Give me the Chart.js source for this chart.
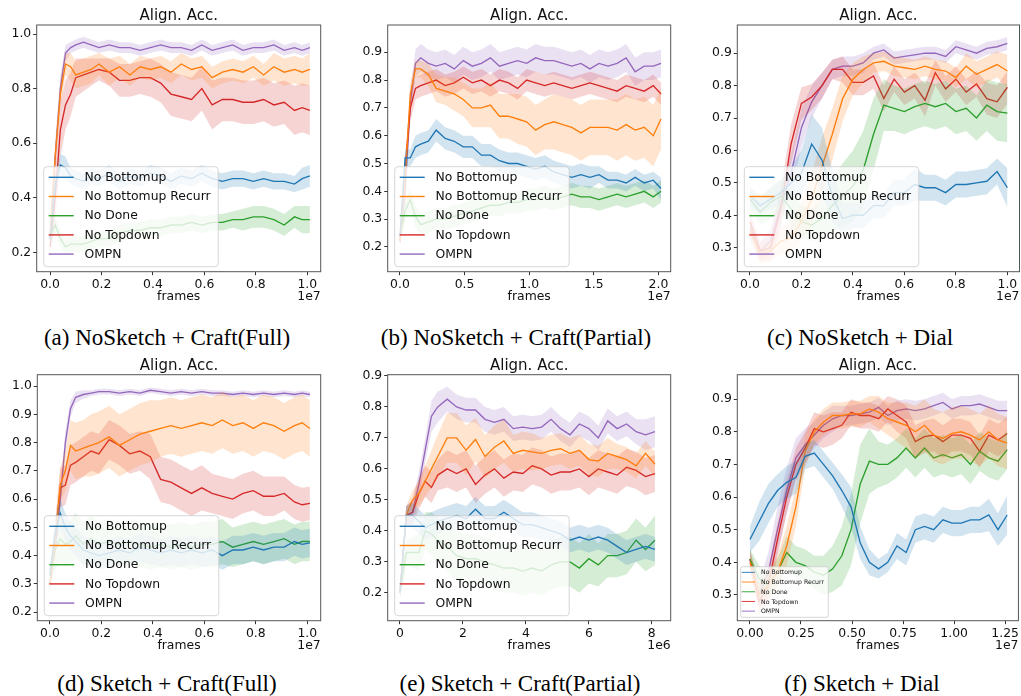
<!DOCTYPE html>
<html lang="en">
<head>
<meta charset="UTF-8">
<title>Align. Acc. ablations</title>
<script src="https://cdn.jsdelivr.net/npm/chart.js@4"></script>
<style>
body {
    margin: 0;
    background: #fff;
    width: 1021px;
    height: 696px;
    position: relative;
    overflow: hidden;
}
canvas {
    position: absolute;
}
.cap {
    position: absolute;
    font-family: "Liberation Serif", serif;
    font-size: 23px;
    line-height: 1;
    color: #000;
    white-space: nowrap;
    transform: translateX(-50%);
}
</style>
</head>
<body>

<canvas id="pa" width="340" height="310" style="left:0;top:0"></canvas>
<canvas id="pb" width="340" height="310" style="left:340px;top:0"></canvas>
<canvas id="pc" width="341" height="310" style="left:680px;top:0"></canvas>
<canvas id="pd" width="340" height="320" style="left:0;top:350px"></canvas>
<canvas id="pe" width="340" height="320" style="left:340px;top:350px"></canvas>
<canvas id="pf" width="341" height="320" style="left:680px;top:350px"></canvas>

<div class="cap" style="left:167px;top:326px">(a) NoSketch + Craft(Full)</div>
<div class="cap" style="left:516px;top:326px">(b) NoSketch + Craft(Partial)</div>
<div class="cap" style="left:860px;top:326px">(c) NoSketch + Dial</div>
<div class="cap" style="left:167px;top:672px">(d) Sketch + Craft(Full)</div>
<div class="cap" style="left:520px;top:672px">(e) Sketch + Craft(Partial)</div>
<div class="cap" style="left:862px;top:672px">(f) Sketch + Dial</div>

<script>
// legend order
const seriesNames = ['No Bottomup', 'No Bottomup Recurr', 'No Done', 'No Topdown', 'OMPN'];
const seriesColors = ['#1f77b4', '#ff7f0e', '#2ca02c', '#d62728', '#9467bd'];

// (a) NoSketch + Craft(Full), frames in 1e7
const xA = [0, 0.02, 0.04, 0.06, 0.08, 0.10, 0.13, 0.16, 0.19, 0.23, 0.27, 0.31, 0.35, 0.39, 0.43, 0.47, 0.51, 0.55, 0.59, 0.63, 0.67, 0.71, 0.75, 0.79, 0.83, 0.87, 0.91, 0.95, 0.98, 1.01];
const aBottomup = [0.25,0.45,0.52,0.51,0.48, 0.47,0.46,0.48,0.47,0.49, 0.46,0.48,0.47,0.49,0.48, 0.46,0.48,0.47,0.49,0.47, 0.46,0.47,0.47,0.46,0.47, 0.46,0.46,0.45,0.47,0.48];
const aBottomupBand = [0.03,0.04,0.04,0.04,0.03, 0.03,0.03,0.03,0.03,0.03, 0.03,0.03,0.03,0.03,0.03, 0.03,0.03,0.03,0.03,0.03, 0.03,0.03,0.03,0.03,0.03, 0.03,0.03,0.03,0.04,0.04];
const aRecurr = [0.27,0.55,0.78,0.89,0.88, 0.85,0.86,0.87,0.89,0.86, 0.88,0.85,0.88,0.87,0.88, 0.86,0.89,0.87,0.88,0.84, 0.86,0.87,0.86,0.88,0.85, 0.88,0.86,0.87,0.86,0.87];
const aRecurrBand = [0.03,0.06,0.05,0.04,0.05, 0.05,0.05,0.05,0.04,0.05, 0.04,0.04,0.04,0.04,0.04, 0.04,0.04,0.04,0.04,0.04, 0.04,0.04,0.04,0.04,0.04, 0.05,0.05,0.05,0.05,0.06];
const aDone = [0.26,0.30,0.25,0.22,0.23, 0.23,0.23,0.24,0.25,0.25, 0.27,0.28,0.28,0.29,0.29, 0.30,0.30,0.31,0.30,0.31, 0.31,0.32,0.32,0.33,0.33, 0.32,0.30,0.33,0.32,0.32];
const aDoneBand = [0.02,0.03,0.03,0.03,0.03, 0.03,0.03,0.03,0.03,0.03, 0.03,0.03,0.03,0.03,0.03, 0.03,0.03,0.03,0.03,0.03, 0.03,0.03,0.04,0.04,0.04, 0.04,0.04,0.04,0.05,0.05];
const aTopdown = [0.22,0.40,0.65,0.74,0.78, 0.84,0.85,0.86,0.87,0.86, 0.83,0.83,0.84,0.84,0.82, 0.78,0.77,0.76,0.80,0.74, 0.76,0.76,0.75,0.75,0.76, 0.74,0.75,0.72,0.73,0.72];
const aTopdownBand = [0.03,0.10,0.10,0.09,0.08, 0.07,0.06,0.05,0.04,0.05, 0.06,0.06,0.06,0.07,0.07, 0.08,0.08,0.08,0.08,0.09, 0.08,0.08,0.08,0.08,0.08, 0.08,0.08,0.09,0.09,0.09];
const aOMPN = [0.25,0.55,0.80,0.93,0.95, 0.96,0.97,0.96,0.95,0.96, 0.95,0.95,0.94,0.95,0.96, 0.95,0.95,0.94,0.96,0.94, 0.95,0.96,0.94,0.95,0.95, 0.96,0.94,0.95,0.94,0.95];
const aOMPNBand = [0.02,0.05,0.05,0.03,0.02, 0.02,0.02,0.02,0.02,0.02, 0.02,0.02,0.02,0.02,0.02, 0.02,0.02,0.02,0.02,0.02, 0.02,0.02,0.02,0.02,0.02, 0.02,0.02,0.02,0.02,0.02];

// (b) NoSketch + Craft(Partial), frames in 1e7
const xB = [0, 0.04, 0.08, 0.12, 0.16, 0.22, 0.28, 0.35, 0.42, 0.49, 0.56, 0.63, 0.70, 0.77, 0.84, 0.91, 0.98, 1.05, 1.12, 1.19, 1.26, 1.33, 1.40, 1.47, 1.54, 1.61, 1.68, 1.75, 1.82, 1.89, 1.96, 2.02];
const bBottomup = [0.24,0.52,0.52,0.56,0.57, 0.58,0.62,0.59,0.58,0.56, 0.56,0.53,0.53,0.51,0.50, 0.50,0.49,0.48,0.49,0.47, 0.46,0.45,0.46,0.45,0.46, 0.44,0.44,0.43,0.45,0.43, 0.44,0.41];
const bBottomupBand = [0.02,0.03,0.03,0.04,0.04, 0.04,0.04,0.04,0.04,0.04, 0.04,0.04,0.04,0.04,0.04, 0.04,0.04,0.04,0.04,0.04, 0.04,0.04,0.04,0.04,0.03, 0.03,0.03,0.03,0.03,0.03, 0.03,0.04];
const bRecurr = [0.22,0.45,0.75,0.84,0.84, 0.82,0.77,0.76,0.75,0.73, 0.70,0.70,0.71,0.67,0.67, 0.66,0.65,0.62,0.64,0.65, 0.64,0.63,0.61,0.63,0.63, 0.63,0.62,0.64,0.62,0.63, 0.60,0.66];
const bRecurrBand = [0.02,0.04,0.04,0.03,0.03, 0.04,0.05,0.05,0.06,0.06, 0.07,0.07,0.08,0.08,0.08, 0.09,0.09,0.09,0.09,0.10, 0.10,0.10,0.10,0.10,0.10, 0.10,0.11,0.11,0.11,0.11, 0.11,0.11];
const bDone = [0.24,0.33,0.37,0.31,0.28, 0.29,0.30,0.30,0.31,0.32, 0.33,0.34,0.35,0.35,0.36, 0.36,0.37,0.37,0.38,0.37, 0.38,0.39,0.38,0.38,0.37, 0.38,0.39,0.38,0.39,0.40, 0.38,0.40];
const bDoneBand = [0.02,0.04,0.04,0.04,0.04, 0.04,0.04,0.04,0.04,0.04, 0.04,0.04,0.04,0.04,0.04, 0.04,0.04,0.04,0.04,0.04, 0.04,0.04,0.04,0.04,0.04, 0.04,0.04,0.04,0.04,0.04, 0.04,0.04];
const bTopdown = [0.22,0.48,0.70,0.77,0.78, 0.79,0.80,0.78,0.79,0.81, 0.79,0.80,0.78,0.80,0.79, 0.77,0.80,0.79,0.78,0.79, 0.78,0.77,0.78,0.79,0.78, 0.77,0.76,0.78,0.77,0.76, 0.78,0.75];
const bTopdownBand = [0.02,0.05,0.05,0.04,0.04, 0.04,0.04,0.04,0.04,0.04, 0.04,0.04,0.04,0.04,0.04, 0.04,0.04,0.04,0.04,0.04, 0.04,0.04,0.04,0.04,0.04, 0.04,0.04,0.04,0.04,0.04, 0.04,0.04];
const bOMPN = [0.22,0.40,0.72,0.86,0.88, 0.86,0.85,0.86,0.84,0.87, 0.85,0.86,0.88,0.85,0.86, 0.87,0.86,0.88,0.87,0.87, 0.86,0.85,0.86,0.84,0.86, 0.85,0.86,0.88,0.83,0.85, 0.85,0.86];
const bOMPNBand = [0.02,0.05,0.05,0.05,0.05, 0.05,0.05,0.05,0.05,0.05, 0.05,0.05,0.05,0.05,0.05, 0.05,0.05,0.05,0.05,0.05, 0.05,0.05,0.05,0.05,0.05, 0.05,0.05,0.05,0.05,0.05, 0.05,0.05];

// (c) NoSketch + Dial, frames in 1e7
const xC = [0, 0.04, 0.08, 0.12, 0.16, 0.20, 0.24, 0.28, 0.32, 0.36, 0.40, 0.44, 0.48, 0.52, 0.56, 0.60, 0.64, 0.68, 0.72, 0.76, 0.80, 0.84, 0.88, 0.92, 0.96, 1.00];
const cBottomup = [0.46,0.43,0.45,0.47,0.50, 0.53,0.62,0.57,0.46,0.39, 0.40,0.40,0.43,0.43,0.47, 0.47,0.495,0.485,0.485,0.47, 0.495,0.495,0.50,0.505,0.535, 0.485];
const cBottomupBand = [0.03,0.03,0.03,0.04,0.05, 0.07,0.09,0.10,0.08,0.05, 0.04,0.04,0.04,0.04,0.04, 0.04,0.05,0.04,0.04,0.04, 0.04,0.04,0.04,0.04,0.04, 0.06];
const cRecurr = [0.35,0.28,0.29,0.32,0.33, 0.38,0.45,0.55,0.65,0.76, 0.82,0.85,0.87,0.875,0.86, 0.855,0.85,0.86,0.85,0.845, 0.825,0.86,0.835,0.85,0.865, 0.845];
const cRecurrBand = [0.03,0.03,0.03,0.04,0.05, 0.06,0.08,0.09,0.08,0.07, 0.05,0.04,0.03,0.03,0.03, 0.03,0.03,0.03,0.03,0.03, 0.03,0.04,0.04,0.04,0.04, 0.05];
const cDone = [0.45,0.41,0.44,0.46,0.42, 0.38,0.37,0.39,0.43,0.46, 0.49,0.54,0.65,0.74,0.73, 0.72,0.735,0.745,0.735,0.745, 0.72,0.73,0.70,0.74,0.72, 0.715];
const cDoneBand = [0.03,0.04,0.05,0.05,0.05, 0.05,0.05,0.06,0.08,0.10, 0.11,0.12,0.11,0.08,0.07, 0.07,0.07,0.07,0.07,0.07, 0.07,0.07,0.07,0.08,0.09, 0.09];
const cTopdown = [0.38,0.29,0.30,0.42,0.62, 0.745,0.765,0.80,0.85,0.85, 0.81,0.81,0.83,0.76,0.82, 0.78,0.80,0.755,0.84,0.79, 0.82,0.78,0.805,0.76,0.75, 0.795];
const cTopdownBand = [0.03,0.03,0.04,0.06,0.06, 0.05,0.04,0.04,0.03,0.04, 0.04,0.04,0.04,0.04,0.04, 0.04,0.04,0.05,0.04,0.04, 0.04,0.04,0.04,0.05,0.05, 0.05];
const cOMPN = [0.36,0.29,0.32,0.43,0.53, 0.67,0.75,0.80,0.85,0.86, 0.86,0.87,0.90,0.91,0.885, 0.89,0.895,0.90,0.90,0.89, 0.92,0.91,0.90,0.915,0.92, 0.93];
const cOMPNBand = [0.03,0.03,0.04,0.05,0.06, 0.06,0.05,0.04,0.03,0.03, 0.03,0.03,0.02,0.02,0.02, 0.02,0.02,0.02,0.02,0.02, 0.02,0.02,0.02,0.02,0.02, 0.02];

// (d) Sketch + Craft(Full), frames in 1e7
const xD = [0, 0.02, 0.04, 0.06, 0.08, 0.10, 0.13, 0.16, 0.19, 0.23, 0.27, 0.31, 0.35, 0.39, 0.43, 0.47, 0.51, 0.55, 0.59, 0.63, 0.67, 0.71, 0.75, 0.79, 0.83, 0.87, 0.91, 0.95, 0.98, 1.01];
const dBottomup = [0.33,0.48,0.55,0.50,0.47, 0.45,0.42,0.41,0.40,0.41, 0.42,0.41,0.43,0.42,0.41, 0.42,0.41,0.42,0.41,0.42, 0.40,0.42,0.42,0.43,0.42, 0.43,0.43,0.45,0.44,0.445];
const dBottomupBand = [0.03,0.05,0.05,0.05,0.05, 0.05,0.05,0.05,0.05,0.05, 0.05,0.05,0.05,0.05,0.05, 0.05,0.05,0.05,0.05,0.05, 0.05,0.05,0.05,0.05,0.05, 0.05,0.05,0.05,0.05,0.05];
const dRecurr = [0.30,0.45,0.65,0.70,0.79, 0.77,0.78,0.79,0.80,0.82, 0.79,0.81,0.83,0.84,0.85, 0.86,0.85,0.86,0.87,0.86, 0.88,0.86,0.87,0.85,0.87, 0.86,0.84,0.86,0.87,0.85];
const dRecurrBand = [0.03,0.06,0.06,0.07,0.09, 0.10,0.10,0.11,0.11,0.11, 0.11,0.11,0.11,0.11,0.10, 0.10,0.10,0.10,0.10,0.10, 0.10,0.10,0.10,0.10,0.10, 0.10,0.10,0.10,0.10,0.10];
const dDone = [0.33,0.42,0.46,0.44,0.45, 0.47,0.44,0.46,0.44,0.45, 0.44,0.45,0.44,0.43,0.44, 0.43,0.44,0.43,0.44,0.44, 0.45,0.43,0.44,0.45,0.44, 0.45,0.46,0.44,0.45,0.45];
const dDoneBand = [0.03,0.07,0.08,0.08,0.08, 0.08,0.08,0.08,0.08,0.08, 0.08,0.08,0.08,0.08,0.08, 0.08,0.08,0.08,0.08,0.08, 0.08,0.07,0.07,0.07,0.07, 0.07,0.07,0.07,0.07,0.07];
const dTopdown = [0.30,0.45,0.64,0.65,0.72, 0.73,0.75,0.77,0.76,0.81, 0.79,0.76,0.77,0.75,0.67, 0.66,0.64,0.62,0.64,0.62, 0.61,0.60,0.62,0.63,0.61, 0.61,0.62,0.59,0.58,0.585];
const dTopdownBand = [0.03,0.06,0.07,0.07,0.07, 0.07,0.07,0.07,0.07,0.07, 0.07,0.07,0.07,0.08,0.08, 0.08,0.08,0.08,0.08,0.07, 0.07,0.07,0.07,0.07,0.07, 0.07,0.06,0.06,0.06,0.06];
const dOMPN = [0.35,0.42,0.60,0.80,0.92, 0.96,0.97,0.975,0.98,0.98, 0.975,0.98,0.975,0.985,0.98, 0.975,0.98,0.975,0.98,0.975, 0.975,0.97,0.975,0.97,0.975, 0.97,0.975,0.97,0.975,0.97];
const dOMPNBand = [0.02,0.03,0.04,0.04,0.03, 0.02,0.015,0.01,0.01,0.01, 0.01,0.01,0.01,0.01,0.01, 0.01,0.01,0.01,0.01,0.01, 0.01,0.01,0.01,0.01,0.01, 0.01,0.01,0.01,0.01,0.01];

// (e) Sketch + Craft(Partial), frames in 1e6
const xE = [0, 0.2, 0.4, 0.6, 0.8, 1.0, 1.2, 1.5, 1.8, 2.1, 2.4, 2.7, 3.0, 3.3, 3.6, 3.9, 4.2, 4.5, 4.8, 5.1, 5.4, 5.7, 6.0, 6.3, 6.6, 6.9, 7.2, 7.5, 7.8, 8.1];
const eBottomup = [0.20,0.45,0.45,0.43,0.41, 0.42,0.43,0.44,0.45,0.44, 0.47,0.44,0.44,0.46,0.44, 0.42,0.42,0.41,0.40,0.39, 0.37,0.38,0.37,0.38,0.37, 0.35,0.33,0.34,0.35,0.34];
const eBottomupBand = [0.02,0.03,0.04,0.04,0.04, 0.04,0.04,0.04,0.04,0.04, 0.04,0.04,0.04,0.04,0.04, 0.04,0.04,0.04,0.04,0.04, 0.04,0.04,0.04,0.04,0.04, 0.04,0.04,0.04,0.04,0.04];
const eRecurr = [0.20,0.45,0.50,0.52,0.56, 0.60,0.64,0.70,0.70,0.66, 0.695,0.64,0.67,0.69,0.65, 0.66,0.655,0.65,0.66,0.665, 0.65,0.66,0.63,0.625,0.65, 0.64,0.63,0.61,0.65,0.615];
const eRecurrBand = [0.02,0.03,0.03,0.04,0.05, 0.06,0.07,0.08,0.08,0.08, 0.07,0.07,0.07,0.07,0.06, 0.06,0.06,0.05,0.05,0.05, 0.05,0.05,0.05,0.05,0.05, 0.04,0.04,0.04,0.04,0.04];
const eDone = [0.20,0.33,0.33,0.33,0.40, 0.39,0.37,0.35,0.32,0.31, 0.31,0.30,0.29,0.28,0.28, 0.27,0.28,0.27,0.29,0.30, 0.30,0.28,0.31,0.29,0.32, 0.32,0.33,0.37,0.34,0.37];
const eDoneBand = [0.02,0.04,0.05,0.06,0.06, 0.07,0.07,0.08,0.08,0.08, 0.08,0.08,0.08,0.08,0.08, 0.08,0.08,0.08,0.08,0.08, 0.08,0.08,0.08,0.07,0.07, 0.07,0.07,0.07,0.07,0.08];
const eTopdown = [0.20,0.45,0.46,0.52,0.56, 0.54,0.58,0.60,0.585,0.60, 0.55,0.58,0.60,0.57,0.59, 0.585,0.61,0.60,0.58,0.59, 0.59,0.60,0.575,0.60,0.59, 0.58,0.605,0.595,0.575,0.585];
const eTopdownBand = [0.02,0.03,0.04,0.05,0.05, 0.05,0.05,0.06,0.06,0.06, 0.06,0.06,0.06,0.06,0.06, 0.06,0.06,0.06,0.06,0.06, 0.06,0.06,0.06,0.06,0.06, 0.06,0.06,0.06,0.06,0.06];
const eOMPN = [0.20,0.45,0.46,0.55,0.66, 0.77,0.80,0.825,0.80,0.79, 0.79,0.76,0.75,0.76,0.73, 0.735,0.73,0.735,0.76,0.73, 0.71,0.745,0.73,0.70,0.755, 0.73,0.745,0.72,0.71,0.72];
const eOMPNBand = [0.02,0.03,0.04,0.04,0.04, 0.05,0.05,0.04,0.04,0.04, 0.04,0.04,0.04,0.04,0.04, 0.04,0.04,0.04,0.04,0.04, 0.04,0.04,0.04,0.04,0.04, 0.04,0.04,0.04,0.05,0.05];

// (f) Sketch + Dial, frames in 1e7
const xF = [0, 0.045, 0.09, 0.135, 0.18, 0.225, 0.27, 0.315, 0.36, 0.405, 0.45, 0.495, 0.54, 0.585, 0.63, 0.675, 0.72, 0.765, 0.81, 0.855, 0.9, 0.945, 0.99, 1.035, 1.08, 1.125, 1.17, 1.215, 1.26];
const fBottomup = [0.47,0.525,0.58,0.62,0.645, 0.66,0.725,0.735,0.70,0.665, 0.62,0.57,0.46,0.40,0.38, 0.40,0.45,0.43,0.50,0.51, 0.50,0.53,0.52,0.52,0.53, 0.53,0.545,0.50,0.545];
const fBottomupBand = [0.04,0.06,0.06,0.05,0.05, 0.05,0.04,0.04,0.04,0.04, 0.05,0.06,0.05,0.04,0.03, 0.03,0.04,0.04,0.04,0.04, 0.04,0.04,0.04,0.04,0.04, 0.04,0.05,0.05,0.06];
const fRecurr = [0.40,0.30,0.33,0.37,0.45, 0.57,0.74,0.80,0.83,0.85, 0.85,0.855,0.855,0.87,0.86, 0.84,0.83,0.82,0.80,0.82, 0.79,0.78,0.795,0.80,0.79, 0.775,0.80,0.775,0.765];
const fRecurrBand = [0.03,0.04,0.04,0.05,0.06, 0.06,0.05,0.04,0.04,0.04, 0.04,0.04,0.04,0.04,0.05, 0.05,0.06,0.07,0.08,0.08, 0.08,0.08,0.08,0.08,0.08, 0.08,0.08,0.08,0.08];
const fDone = [0.41,0.35,0.33,0.37,0.43, 0.40,0.39,0.37,0.36,0.38, 0.42,0.50,0.64,0.71,0.70, 0.70,0.72,0.75,0.72,0.75, 0.72,0.73,0.72,0.73,0.70, 0.74,0.72,0.71,0.745];
const fDoneBand = [0.03,0.04,0.04,0.04,0.05, 0.05,0.05,0.05,0.06,0.07, 0.09,0.11,0.12,0.10,0.07, 0.06,0.06,0.06,0.06,0.06, 0.06,0.06,0.06,0.06,0.06, 0.06,0.06,0.06,0.06];
const fTopdown = [0.41,0.28,0.33,0.47,0.60, 0.70,0.75,0.81,0.80,0.81, 0.82,0.86,0.85,0.85,0.84, 0.87,0.85,0.83,0.77,0.785, 0.79,0.77,0.79,0.79,0.78, 0.74,0.79,0.775,0.795];
const fTopdownBand = [0.03,0.04,0.05,0.05,0.05, 0.05,0.05,0.05,0.05,0.05, 0.04,0.04,0.04,0.04,0.04, 0.04,0.05,0.05,0.05,0.05, 0.05,0.05,0.05,0.05,0.05, 0.05,0.05,0.05,0.05];
const fOMPN = [0.41,0.30,0.37,0.50,0.62, 0.72,0.76,0.79,0.82,0.84, 0.85,0.85,0.855,0.86,0.875, 0.85,0.865,0.87,0.865,0.87, 0.88,0.89,0.87,0.88,0.88, 0.885,0.875,0.865,0.865];
const fOMPNBand = [0.03,0.04,0.06,0.07,0.07, 0.06,0.05,0.04,0.04,0.04, 0.03,0.03,0.03,0.03,0.03, 0.03,0.03,0.03,0.03,0.03, 0.03,0.03,0.03,0.03,0.03, 0.03,0.03,0.03,0.03];

// axis ticks
const ticksTenth = [0, 0.2, 0.4, 0.6, 0.8, 1.0];
const ticksTwenty = [0, 0.5, 1.0, 1.5, 2.0];
const ticksMillions = [0, 2, 4, 6, 8];
const ticksQuarter = [0, 0.25, 0.5, 0.75, 1.0, 1.25];
const yTicksA = [0.2, 0.4, 0.6, 0.8, 1.0];
const yTicksB = [0.2, 0.3, 0.4, 0.5, 0.6, 0.7, 0.8, 0.9];
const yTicksC = [0.3, 0.4, 0.5, 0.6, 0.7, 0.8, 0.9];
const yTicksD = [0.2, 0.3, 0.4, 0.5, 0.6, 0.7, 0.8, 0.9, 1.0];

Chart.defaults.font.family = '"DejaVu Sans", sans-serif';

function rgba(hex, a) {
    const n = parseInt(hex.slice(1), 16);
    return 'rgba(' + (n >> 16) + ',' + ((n >> 8) & 255) + ',' + (n & 255) + ',' + a + ')';
}

function buildDatasets(xs, means, bands) {
    const sets = [];
    means.forEach((m, k) => {
        const c = seriesColors[k];
        sets.push({ data: xs.map((x, i) => ({ x: x, y: m[i] + bands[k][i] })), borderColor: 'rgba(0,0,0,0)', borderWidth: 0, pointRadius: 0, fill: false });
        sets.push({ data: xs.map((x, i) => ({ x: x, y: m[i] - bands[k][i] })), borderColor: 'rgba(0,0,0,0)', borderWidth: 0, pointRadius: 0, fill: '-1', backgroundColor: rgba(c, 0.2) });
        sets.push({ label: seriesNames[k], data: xs.map((x, i) => ({ x: x, y: m[i] })), borderColor: c, borderWidth: 1.35, pointRadius: 0, fill: false });
    });
    return sets;
}

// frame, title, legend and axis texts
const decor = {
    id: 'decor',
    afterDatasetsDraw(chart, args, o) {
        const ctx = chart.ctx, a = chart.chartArea, s = o.small;
        const bw = s ? 87.6 : 174.5, bh = s ? 50.6 : 100;
        const bx = a.left + (s ? 3.4 : 7), by = a.bottom - (s ? 3.4 : 5) - bh;
        const rowH = s ? 9.7 : 19.2, pad = s ? 0.8 : 1;
        ctx.save();
        ctx.beginPath();
        ctx.roundRect(bx, by, bw, bh, s ? 2 : 3.5);
        ctx.fillStyle = 'rgba(255,255,255,0.8)';
        ctx.fill();
        ctx.strokeStyle = 'rgba(204,204,204,0.8)';
        ctx.lineWidth = 1;
        ctx.stroke();
        ctx.font = (s ? 6.2 : 12.4) + 'px "DejaVu Sans"';
        ctx.textBaseline = 'middle';
        ctx.textAlign = 'left';
        seriesNames.forEach((name, k) => {
            const y = by + pad + rowH * (k + 0.5);
            ctx.strokeStyle = seriesColors[k];
            ctx.lineWidth = s ? 0.9 : 1.4;
            ctx.beginPath();
            ctx.moveTo(bx + (s ? 1 : 5), y);
            ctx.lineTo(bx + (s ? 14.3 : 30), y);
            ctx.stroke();
            ctx.fillStyle = '#111';
            ctx.fillText(name, bx + (s ? 20.3 : 40.7), y + 0.5);
        });
        ctx.restore();
    },
    afterDraw(chart, args, o) {
        const ctx = chart.ctx, a = chart.chartArea;
        ctx.save();
        ctx.strokeStyle = '#555';
        ctx.lineWidth = 1;
        ctx.strokeRect(a.left, a.top, a.right - a.left, a.bottom - a.top);
        ctx.fillStyle = '#111';
        ctx.font = '15px "DejaVu Sans"';
        ctx.textAlign = 'center';
        ctx.textBaseline = 'alphabetic';
        ctx.fillText('Align. Acc.', (a.left + a.right) / 2, a.top - 5);
        ctx.font = '12.4px "DejaVu Sans"';
        ctx.textBaseline = 'middle';
        ctx.fillText('frames', (a.left + a.right) / 2, a.bottom + 25);
        ctx.textAlign = 'right';
        ctx.fillText(o.offset, a.right, a.bottom + 25);
        ctx.restore();
    }
};

function makePanel(id, p) {
    const tickFont = { size: 12.4, family: '"DejaVu Sans"' };
    new Chart(document.getElementById(id), {
        type: 'line',
        data: { datasets: buildDatasets(p.xs, p.means, p.bands) },
        options: {
            responsive: false,
            animation: false,
            events: [],
            layout: { padding: { left: 0, right: p.padR, top: p.padT, bottom: 0 } },
            plugins: {
                legend: { display: false },
                tooltip: { enabled: false },
                decor: { small: p.small, offset: p.offset }
            },
            scales: {
                x: {
                    type: 'linear',
                    min: p.xMin,
                    max: p.xMax,
                    afterBuildTicks: s => { s.ticks = p.xTicks.map(v => ({ value: v })); },
                    afterFit: s => { s.height = p.xAxisH; },
                    ticks: { callback: v => v.toFixed(p.xDec), font: tickFont, color: '#111', padding: 2, maxRotation: 0, autoSkip: false },
                    grid: { drawOnChartArea: false, drawTicks: true, tickLength: 3.5, color: '#333' },
                    border: { display: false }
                },
                y: {
                    min: p.yMin,
                    max: p.yMax,
                    afterBuildTicks: s => { s.ticks = p.yTicks.map(v => ({ value: v })); },
                    afterFit: s => { s.width = p.yAxisW; },
                    ticks: { callback: v => v.toFixed(1), font: tickFont, color: '#111', padding: 2, autoSkip: false },
                    grid: { drawOnChartArea: false, drawTicks: true, tickLength: 3.5, color: '#333' },
                    border: { display: false }
                }
            }
        },
        plugins: [decor]
    });
}

makePanel('pa', {
    xs: xA, means: [aBottomup, aRecurr, aDone, aTopdown, aOMPN],
    bands: [aBottomupBand, aRecurrBand, aDoneBand, aTopdownBand, aOMPNBand],
    xMin: -0.052, xMax: 1.052, yMin: 0.129, yMax: 1.033,
    xTicks: ticksTenth, xDec: 1, yTicks: yTicksA, offset: '1e7',
    yAxisW: 36.7, padR: 19.3, padT: 25, xAxisH: 38.3, small: false
});
makePanel('pb', {
    xs: xB, means: [bBottomup, bRecurr, bDone, bTopdown, bOMPN],
    bands: [bBottomupBand, bRecurrBand, bDoneBand, bTopdownBand, bOMPNBand],
    xMin: -0.095, xMax: 2.095, yMin: 0.111, yMax: 0.998,
    xTicks: ticksTwenty, xDec: 1, yTicks: yTicksB, offset: '1e7',
    yAxisW: 47.7, padR: 9.3, padT: 25, xAxisH: 38.3, small: false
});
makePanel('pc', {
    xs: xC, means: [cBottomup, cRecurr, cDone, cTopdown, cOMPN],
    bands: [cBottomupBand, cRecurrBand, cDoneBand, cTopdownBand, cOMPNBand],
    xMin: -0.049, xMax: 1.047, yMin: 0.226, yMax: 0.987,
    xTicks: ticksTenth, xDec: 1, yTicks: yTicksC, offset: '1e7',
    yAxisW: 57.3, padR: 1.5, padT: 25, xAxisH: 38.3, small: false
});
makePanel('pd', {
    xs: xD, means: [dBottomup, dRecurr, dDone, dTopdown, dOMPN],
    bands: [dBottomupBand, dRecurrBand, dDoneBand, dTopdownBand, dOMPNBand],
    xMin: -0.049, xMax: 1.052, yMin: 0.170, yMax: 1.040,
    xTicks: ticksTenth, xDec: 1, yTicks: yTicksD, offset: '1e7',
    yAxisW: 37.3, padR: 19.3, padT: 24.7, xAxisH: 49.3, small: false
});
makePanel('pe', {
    xs: xE, means: [eBottomup, eRecurr, eDone, eTopdown, eOMPN],
    bands: [eBottomupBand, eRecurrBand, eDoneBand, eTopdownBand, eOMPNBand],
    xMin: -0.39, xMax: 8.60, yMin: 0.110, yMax: 0.904,
    xTicks: ticksMillions, xDec: 0, yTicks: yTicksB, offset: '1e6',
    yAxisW: 47.7, padR: 9.3, padT: 24.7, xAxisH: 49.3, small: false
});
makePanel('pf', {
    xs: xF, means: [fBottomup, fRecurr, fDone, fTopdown, fOMPN],
    bands: [fBottomupBand, fRecurrBand, fDoneBand, fTopdownBand, fOMPNBand],
    xMin: -0.062, xMax: 1.315, yMin: 0.221, yMax: 0.975,
    xTicks: ticksQuarter, xDec: 2, yTicks: yTicksC, offset: '1e7',
    yAxisW: 57.3, padR: 1, padT: 24.7, xAxisH: 49.3, small: true
});
</script>
</body>
</html>
